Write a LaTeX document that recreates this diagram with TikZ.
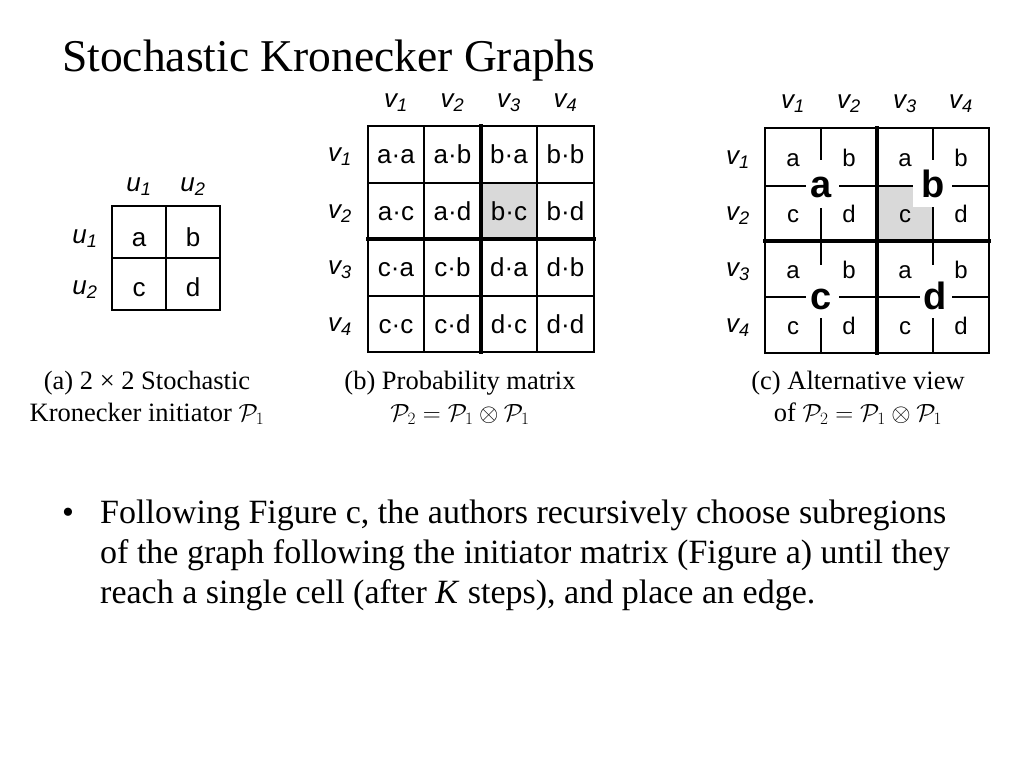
\documentclass[tikz,border=0pt]{standalone}
\usepackage{fontspec}
\setmainfont{Liberation Serif}
\newfontfamily\arial{Liberation Sans}
\newcommand\vlab[2]{#1\textsubscript{#2}}
\newcommand\calP[1]{$\mathcal{P}_{#1}$}
\definecolor{cellgray}{RGB}{217,217,217}
\tikzset{
  gridthin/.style={line width=1.8pt, line cap=rect},
  gridthick/.style={line width=4pt, line cap=rect},
  celltxt/.style={font=\arial\fontsize{26}{30}\selectfont, anchor=base, inner sep=0pt},
  smalltxt/.style={font=\arial\fontsize{24}{28}\selectfont, anchor=base, inner sep=0pt},
  bigtxt/.style={font=\arial\bfseries\fontsize{38}{40}\selectfont, anchor=base, inner sep=0pt},
  lab/.style={font=\arial\itshape\fontsize{26}{28}\selectfont, inner sep=0pt},
  captxt/.style={font=\fontsize{26.5}{28}\selectfont, anchor=base, inner sep=0pt},
  body/.style={font=\fontsize{34}{40}\selectfont, anchor=base west, inner sep=0pt},
}
\begin{document}
\begin{tikzpicture}[x=1pt,y=-1pt]
\useasboundingbox[fill=white] (0,0) rectangle (1024,768);
% title
\node[font=\fontsize{45.5}{48}\selectfont, anchor=base west, inner sep=0pt] (title) at (62,71) {Stochastic Kronecker Graphs};

% ---------- (a) ----------
\draw[gridthin] (112,206) rectangle (220,310);
\draw[gridthin] (166,206) -- (166,310);
\draw[gridthin] (112,258) -- (220,258);
\node[celltxt] (a11) at (139,246) {a};
\node[celltxt] (a12) at (193,246) {b};
\node[celltxt] (a21) at (139,296) {c};
\node[celltxt] (a22) at (193,296) {d};
\node[lab] (au1) at (139,187) {\vlab{u}{1}};
\node[lab] (au2) at (193,187) {\vlab{u}{2}};
\node[lab] (aw1) at (85,239) {\vlab{u}{1}};
\node[lab] (aw2) at (85,290) {\vlab{u}{2}};
\node[captxt] (capa1) at (147,389) {(a) 2 × 2 Stochastic};
\node[captxt] (capa2) at (147,421) {Kronecker initiator \calP{1}};

% ---------- (b) ----------
\fill[cellgray] (481,183) rectangle (537,239);
\draw[gridthin] (368,126) rectangle (594,352);
\foreach \x in {424,537} \draw[gridthin] (\x,126) -- (\x,352);
\foreach \y in {183,296} \draw[gridthin] (368,\y) -- (594,\y);
\draw[gridthick] (481,126) -- (481,352);
\draw[gridthick] (368,239) -- (594,239);
\foreach \t [count=\i from 0] in {a·a,a·b,b·a,b·b,a·c,a·d,b·c,b·d,c·a,c·b,d·a,d·b,c·c,c·d,d·c,d·d}{
  \pgfmathtruncatemacro\cc{mod(\i,4)}
  \pgfmathtruncatemacro\rr{div(\i,4)}
  \node[celltxt] (pb\i) at ({396+56.5*\cc},{163.5+56.5*\rr}) {\t};
}
\foreach \k in {1,2,3,4}{
  \node[lab] (bc\k) at ({396+56.5*(\k-1)},103) {\vlab{v}{\k}};
  \node[lab] (br\k) at (340,{157+56.5*(\k-1)}) {\vlab{v}{\k}};
}
\node[captxt] (capb1) at (460,389) {(b) Probability matrix};
\node[captxt] (capb2) at (460,421) {\calP{2}${}={}$\calP{1}${}\otimes{}$\calP{1}};

% ---------- (c) ----------
\fill[cellgray] (877,186) rectangle (933,241);
\draw[gridthin] (765,128) rectangle (989,353);
\foreach \x in {821,933} \draw[gridthin] (\x,128) -- (\x,353);
\foreach \y in {186,297} \draw[gridthin] (765,\y) -- (989,\y);
\draw[gridthick] (877,128) -- (877,353);
\draw[gridthick] (765,241) -- (989,241);
\fill[white] (806,160) rectangle (839,208);
\fill[white] (913,160) rectangle (952,207);
\fill[white] (806,265) rectangle (839,318);
\fill[white] (920,265) rectangle (952,318);
\foreach \t [count=\i from 0] in {a,b,a,b,c,d,c,d,a,b,a,b,c,d,c,d}{
  \pgfmathtruncatemacro\cc{mod(\i,4)}
  \pgfmathtruncatemacro\rr{div(\i,4)}
  \node[smalltxt] (pc\i) at ({793+56*\cc},{166+56*\rr}) {\t};
}
\node[bigtxt] (qa) at (821,197) {a};
\node[bigtxt] (qb) at (933,197) {b};
\node[bigtxt] (qc) at (821,309) {c};
\node[bigtxt] (qd) at (935,309) {d};
\foreach \k in {1,2,3,4}{
  \node[lab] (cc\k) at ({793+56*(\k-1)},104) {\vlab{v}{\k}};
  \node[lab] (cr\k) at (738,{160+56*(\k-1)}) {\vlab{v}{\k}};
}
\node[captxt] (capc1) at (858,389) {(c) Alternative view};
\node[captxt] (capc2) at (858,421) {of \calP{2}${}={}$\calP{1}${}\otimes{}$\calP{1}};

% ---------- bullet ----------
\node[body, anchor=base] (dot) at (68,523) {•};
\node[body] (l1) at (100,523) {Following Figure c, the authors recursively choose subregions};
\node[body] (l2) at (100,563) {of the graph following the initiator matrix (Figure a) until they};
\node[body] (l3) at (100,603) {reach a single cell (after \textit{K} steps), and place an edge.};
\end{tikzpicture}
\end{document}
